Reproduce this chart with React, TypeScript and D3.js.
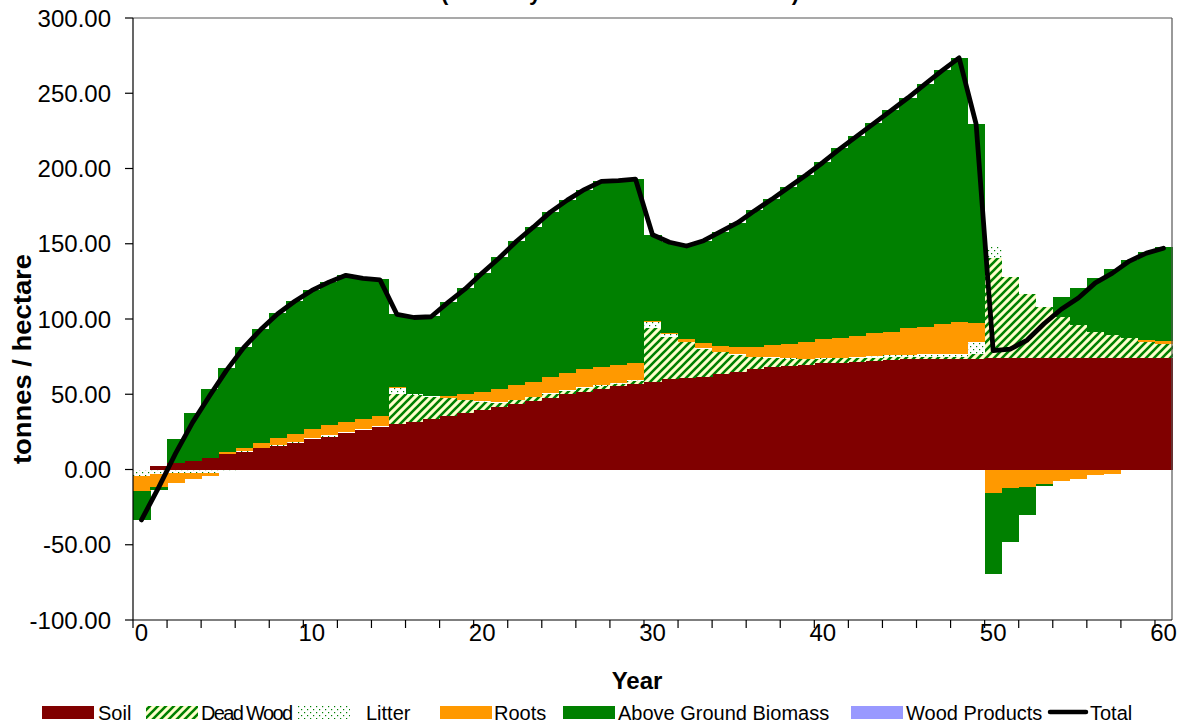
import * as d3 from 'd3';

// years on the category axis
const years = d3.range(0, 61);

const soil = [
  0, 2, 4, 5.8, 7.4, 10.3, 11.8, 14, 15.8, 17.8,
  20, 21.8, 24, 26, 28, 30.2, 31.8, 33.3, 35.8, 37.8,
  39.5, 41.7, 43.5, 45.5, 47.7, 50.2, 51.7, 53.3, 55.5, 56.8,
  58.3, 59.9, 60.8, 61.7, 63.4, 65, 66.6, 67.9, 68.8, 69.4,
  70.5, 71, 71.6, 72.3, 72.8, 73.2, 73.4, 73.5, 73.6, 73.7,
  73.8, 73.8, 73.8, 73.8, 73.8, 73.8, 73.8, 73.8, 73.8, 73.8, 73.8,
];

const deadWood = [
  0, 0, 0, 0, 0, -0.4, -0.4, -0.4, -0.4, -0.4,
  -0.4, -0.4, -0.4, -0.4, -0.4, 20, 17.7, 15.1, 11.5, 8.4,
  5.5, 2.7, 2.4, 2.4, 2.4, 2, 2.5, 2, 1.5, 2,
  35.5, 28.3, 24, 18.5, 14.7, 11.3, 8.2, 6.4, 4.9, 4,
  3.2, 2.8, 2.4, 2, 1.8, 1.6, 1.4, 1.3, 1.2, 3,
  66.5, 53.8, 42.6, 34.4, 27.7, 22.2, 17.8, 15.6, 13.4, 11, 9.5,
];

const litter = [
  -4.5, -2.7, -2.5, -2.5, -2, -1.2, 0.3, 0.3, 0.4, 0.6,
  0.7, 0.8, 0.8, 0.8, 0.8, 3.8, 0.5, 0.3, 0.3, 0.3,
  0.3, 0.3, 0.3, 0.5, 0.5, 0.6, 0.8, 0.8, 0.7, 0.7,
  4.4, 1.8, 0.2, 0.3, 0.2, 0.2, 0.2, 0.2, 0.2, 0.3,
  0.5, 0.6, 1, 1.2, 1.5, 1.6, 1.7, 1.8, 1.9, 8.3,
  7.7, 0.5, -0.5, -0.5, -0.5, -0.5, -0.5, -0.5, -0.5, -0.5, -0.5,
];

const roots = [
  -10, -9, -6.8, -4, -2.3, 1, 2.3, 3.4, 4.9, 5.2,
  6, 7, 7, 6.5, 6.7, 0.5, 0, 0.3, 1.2, 3.4,
  6.4, 8.6, 9.9, 9.9, 10.7, 11.1, 11.6, 12.2, 11.7, 11.5,
  0.3, 0.4, 1.5, 3.3, 3.7, 5.1, 6.6, 8.2, 9.5, 11.2,
  12.3, 12.8, 13.7, 15, 15.5, 17.4, 18.4, 19.9, 21.3, 12.5,
  -15.5, -12.2, -11.3, -9, -7.3, -5.7, -3, -2.2, 0.3, 1.5, 2,
];

const aboveGround = [
  -19, -1.8, 16, 32, 45.9, 56.4, 67.1, 75.7, 83.1, 88.4,
  92.6, 95.2, 97.4, 94.2, 90.9, 49, 51.5, 53, 62.2, 70.5,
  79.1, 87.7, 95.7, 102.7, 109.7, 115.1, 119.4, 123.3, 122.9, 122,
  57.5, 60.6, 62, 68.2, 76, 82.4, 90.8, 97, 104.5, 111.1,
  118, 126.2, 132.9, 139.5, 147.3, 153.2, 161.1, 168.9, 175.6, 131.9,
  -53.9, -35.8, -18.4, -1.5, 12.9, 24.4, 35.8, 43.8, 51.7, 58.1, 62.4,
];

const woodProducts = years.map(() => 0);

const total = [
  -33.5, -12, 10.7, 31.3, 49, 66, 81, 93, 103.5, 111.8,
  119, 124.5, 129, 127, 126, 103, 101, 101.5, 111, 120,
  130.5, 140.5, 151.5, 161, 171, 179, 186, 191.5, 192, 193,
  156, 151, 148.5, 152, 158, 164, 172, 179.5, 187.5, 195.5,
  204, 213, 221.5, 230, 238.5, 247, 256, 265, 273.5, 229.5,
  79, 80, 86, 97, 106.5, 114, 124, 130.5, 138.5, 143.8, 147,
];

const yTicks = [-100, -50, 0, 50, 100, 150, 200, 250, 300];
const xLabelYears = [0, 10, 20, 30, 40, 50, 60];

const keys = ['soil', 'deadWood', 'litter', 'roots', 'aboveGround', 'woodProducts'];
const fills: Record<string, string> = {
  soil: '#800000',
  deadWood: 'url(#hatchDW)',
  litter: 'url(#dotLitter)',
  roots: '#FF9900',
  aboveGround: '#008000',
  woodProducts: '#9999FF',
};

const legend = [
  { label: 'Soil', key: 'soil', x: 42, tx: 98, len: 0 },
  { label: 'Dead Wood', key: 'deadWood', x: 146, tx: 201, len: 92 },
  { label: 'Litter', key: 'litter', x: 298, tx: 366, len: 0 },
  { label: 'Roots', key: 'roots', x: 440, tx: 494, len: 0 },
  { label: 'Above Ground Biomass', key: 'aboveGround', x: 563, tx: 618, len: 0 },
  { label: 'Wood Products', key: 'woodProducts', x: 851, tx: 906, len: 0 },
];

const W = 1189;
const H = 723;
const plot = { left: 133, right: 1172, top: 18, bottom: 620 };
const font = '"Liberation Sans", Arial, sans-serif';
const fmt = (v: number) => d3.format('.2f')(v).replace('\u2212', '-');

export default function App() {
  const x = d3.scaleBand<number>()
    .domain(years)
    .range([plot.left, plot.right])
    .padding(0);
  const y = d3.scaleLinear().domain([-100, 300]).range([plot.bottom, plot.top]);

  const rows = years.map((yr, i) => ({
    year: yr,
    soil: soil[i],
    deadWood: deadWood[i],
    litter: litter[i],
    roots: roots[i],
    aboveGround: aboveGround[i],
    woodProducts: woodProducts[i],
  }));

  const stacked = d3.stack<any>()
    .keys(keys)
    .offset(d3.stackOffsetDiverging)(rows);

  const line = d3.line<number>()
    .x((_, i) => (x(years[i]) as number) + x.bandwidth() / 2)
    .y(d => y(d));

  const bw = x.bandwidth();
  const tickYears = years.filter(yr => yr % 2 === 0);

  return (
    <svg width={W} height={H} style={{ position: 'absolute', left: 0, top: 0, background: '#fff' }}>
      <defs>
        <pattern id="hatchDW" patternUnits="userSpaceOnUse" width="8" height="8">
          <rect width="8" height="8" fill="#FFFFCC" />
          <path d="M-2,2 L2,-2 M0,8 L8,0 M6,10 L10,6" stroke="#008000" strokeWidth="2.6" />
        </pattern>
        <pattern id="dotLitter" patternUnits="userSpaceOnUse" width="6" height="6">
          <rect width="6" height="6" fill="#fff" />
          <rect x="1" y="1" width="1.2" height="1.2" fill="#008000" />
          <rect x="4" y="4" width="1.2" height="1.2" fill="#008000" />
        </pattern>
      </defs>

      {/* title: the reference shows only its descenders at the top edge */}
      <text x={620} y={0} textAnchor="middle" fontFamily={font} fontWeight="bold" fontSize={22}>
        (Stand by modelled total estimate)
      </text>

      {/* stacked bars */}
      <g shapeRendering="crispEdges">
        {stacked.map(layer => (
          <g key={layer.key} fill={fills[layer.key]}>
            {layer.map((d, i) => {
              const lo = Math.min(d[0], d[1]);
              const hi = Math.max(d[0], d[1]);
              if (hi - lo <= 0) return null;
              return (
                <rect
                  key={i}
                  x={x(years[i])}
                  y={y(hi)}
                  width={bw + 0.5}
                  height={y(lo) - y(hi)}
                />
              );
            })}
          </g>
        ))}
      </g>

      {/* total line */}
      <path
        d={line(total) || ''}
        fill="none"
        stroke="#000"
        strokeWidth={4.8}
        strokeLinejoin="round"
        strokeLinecap="round"
      />

      {/* plot frame */}
      <line x1={plot.left} x2={plot.right} y1={plot.top} y2={plot.top} stroke="#555" strokeWidth={1.2} />
      <line x1={plot.right} x2={plot.right} y1={plot.top} y2={plot.bottom} stroke="#555" strokeWidth={1.2} />
      <line x1={plot.left} x2={plot.left} y1={plot.top} y2={plot.bottom} stroke="#000" strokeWidth={1.2} />
      <line x1={plot.left} x2={plot.right} y1={plot.bottom} y2={plot.bottom} stroke="#000" strokeWidth={1.2} />

      {/* y axis */}
      {yTicks.map(t => (
        <g key={t}>
          <line x1={plot.left - 8} x2={plot.left} y1={y(t)} y2={y(t)} stroke="#000" strokeWidth={1.2} />
          <text
            x={111}
            y={y(t) + 8.5}
            textAnchor="end"
            fontFamily={font}
            fontSize={24}
            fill="#000"
          >
            {fmt(t)}
          </text>
        </g>
      ))}
      <text
        transform="translate(31,359) rotate(-90)"
        textAnchor="middle"
        fontFamily={font}
        fontWeight="bold"
        fontSize={25}
        textLength={210}
        lengthAdjust="spacingAndGlyphs"
      >
        tonnes / hectare
      </text>

      {/* x axis */}
      {tickYears.map(yr => (
        <line
          key={yr}
          x1={x(yr)}
          x2={x(yr)}
          y1={plot.bottom}
          y2={plot.bottom + 8}
          stroke="#000"
          strokeWidth={1.2}
        />
      ))}
      {xLabelYears.map(yr => (
        <text
          key={yr}
          x={(x(yr) as number) + bw / 2}
          y={641}
          textAnchor="middle"
          fontFamily={font}
          fontSize={24}
        >
          {yr}
        </text>
      ))}
      <text x={637} y={689} textAnchor="middle" fontFamily={font} fontWeight="bold" fontSize={24}>
        Year
      </text>

      {/* legend */}
      <g fontFamily={font} fontSize={20}>
        {legend.map(l => (
          <g key={l.key}>
            <rect x={l.x} y={706} width={52} height={13} fill={fills[l.key]} />
            {l.len ? (
              <text x={l.tx} y={720} textLength={l.len} lengthAdjust="spacing">{l.label}</text>
            ) : (
              <text x={l.tx} y={720}>{l.label}</text>
            )}
          </g>
        ))}
        <line x1={1050} x2={1086} y1={712} y2={712} stroke="#000" strokeWidth={4.5} strokeLinecap="round" />
        <text x={1090} y={720}>Total</text>
      </g>
    </svg>
  );
}
